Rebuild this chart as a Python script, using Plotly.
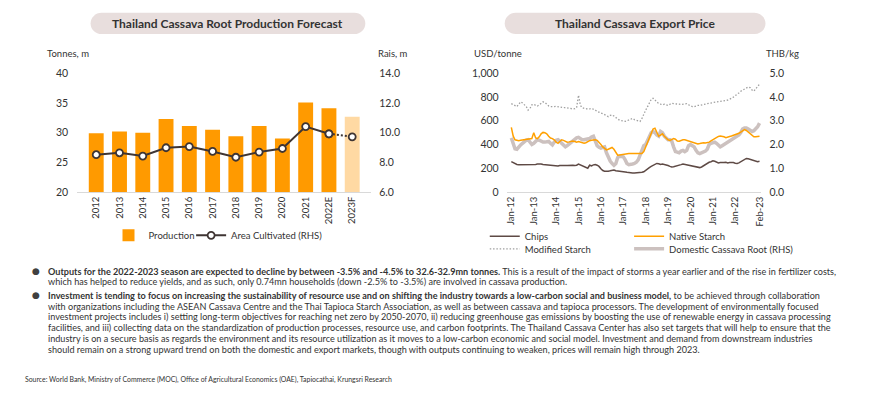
import plotly.graph_objects as go

W, H = 870, 396

# ---------------- Data: left chart ----------------
years = ["2012", "2013", "2014", "2015", "2016", "2017", "2018", "2019", "2020", "2021", "2022E", "2023F"]
production = [29.9, 30.2, 30.0, 32.3, 31.1, 30.5, 29.4, 31.1, 29.0, 35.1, 34.1, 32.7]
area_cultivated = [8.51, 8.64, 8.42, 8.98, 9.06, 8.73, 8.34, 8.69, 8.93, 10.41, 9.92, 9.72]
bar_colors = ["#FF9A00"] * 11 + ["#FFD9A3"]

# ---------------- Data: right chart (monthly, Jan-12 .. Feb-23) ----------------
chips = [
    255, 245, 235, 232, 230, 230, 228, 228, 230, 232, 230, 228,
    230, 232, 235, 238, 236, 232, 230, 228, 226, 225, 224, 222,
    220, 218, 222, 224, 224, 222, 222, 224, 225, 224, 222, 225,
    235, 228, 222, 218, 212, 200, 225, 220, 228, 230, 225, 215,
    195, 180, 175, 172, 175, 178, 182, 185, 178, 176, 180, 175,
    170, 168, 165, 162, 160, 160, 160, 160, 162, 162, 165, 170,
    185, 195, 205, 215, 225, 235, 240, 238, 232, 235, 232, 228,
    222, 215, 210, 212, 215, 220, 225, 230, 235, 232, 228, 222,
    220, 215, 212, 208, 205, 205, 210, 220, 235, 245, 250, 255,
    262, 258, 250, 245, 248, 245, 248, 250, 245, 248, 250, 248,
    242, 240, 245, 255, 265, 275, 282, 280, 275, 270, 262, 258,
    255, 258,
]
native_starch = [
    545, 470, 440, 435, 432, 435, 438, 440, 440, 442, 445, 450,
    500, 455, 450, 465, 490, 502, 500, 490, 470, 455, 450, 440,
    420, 410, 425, 440, 435, 425, 420, 422, 428, 430, 425, 420,
    425, 420, 412, 410, 415, 425, 432, 435, 438, 440, 435, 420,
    400, 380, 365, 355, 360, 370, 375, 360, 330, 310, 312, 315,
    318, 320, 322, 323, 323, 323, 325, 325, 325, 325, 323, 340,
    380, 420, 460, 500, 530, 538, 510, 470, 480, 490, 470, 455,
    440, 435, 445, 450, 445, 430, 428, 435, 440, 440, 435, 432,
    430, 425, 420, 412, 405, 408, 412, 415, 412, 415, 420, 430,
    440, 450, 460, 468, 472, 470, 465, 458, 460, 468, 472, 478,
    480, 485, 495, 505, 515, 525, 518, 505, 490, 475, 465, 465,
    465, 470,
]
modified_starch = [
    745, 735, 725, 720, 740, 760, 750, 735, 720, 690, 705, 735,
    740, 730, 725, 735, 750, 760, 755, 740, 725, 720, 718, 720,
    722, 718, 715, 712, 710, 712, 708, 705, 705, 700, 702, 710,
    815, 730, 710, 705, 700, 702, 700, 705, 700, 690, 680, 670,
    665, 660, 650, 640, 635, 645, 650, 640, 625, 615, 605, 600,
    598, 595, 600, 605, 615, 620, 610, 605, 600, 595, 620, 660,
    690, 720, 750, 780, 790, 775, 755, 745, 740, 735, 740, 735,
    730, 740, 748, 745, 745, 742, 740, 738, 740, 745, 745, 735,
    725, 720, 718, 725, 730, 730, 735, 740, 742, 745, 748, 750,
    752, 755, 758, 762, 765, 768, 770, 772, 775, 780, 790, 800,
    810, 820, 835, 850, 860, 870, 880, 885, 880, 860, 850, 870,
    890, 910,
]
domestic_root = [
    2.28, 2.05, 1.82, 1.80, 1.92, 1.98, 2.05, 2.12, 2.18, 2.20, 2.10, 2.00,
    2.05, 2.15, 2.20, 2.18, 2.12, 2.10, 2.10, 2.12, 2.13, 2.05, 1.98, 2.10,
    2.18, 2.20, 2.15, 2.05, 1.95, 1.90, 1.95, 2.02, 2.10, 2.15, 2.20, 2.28,
    2.30, 2.25, 2.20, 2.20, 2.22, 2.22, 2.25, 2.32, 2.35, 2.15, 1.95, 1.88,
    1.85, 1.88, 1.90, 1.65, 1.45, 1.30, 1.20, 1.12, 1.20, 1.45, 1.50, 1.50,
    1.48, 1.35, 1.20, 1.15, 1.15, 1.18, 1.20, 1.25, 1.35, 1.55, 1.75, 1.95,
    2.00, 2.20, 2.35, 2.50, 2.55, 2.50, 2.40, 2.35, 2.55, 2.50, 2.35, 2.25,
    2.20, 2.20, 2.15, 1.90, 1.70, 1.68, 1.65, 1.72, 1.75, 1.70, 1.75, 1.95,
    2.00, 1.95, 1.90, 1.75, 1.65, 1.62, 1.65, 1.70, 1.72, 1.80, 2.00, 2.05,
    2.08, 2.10, 2.05, 1.95, 1.90, 1.95, 2.00, 2.05, 2.12, 2.18, 2.20, 2.28,
    2.30, 2.35, 2.40, 2.50, 2.65, 2.70, 2.70, 2.65, 2.60, 2.55, 2.58, 2.65,
    2.75, 2.90,
]
month_dates = [f"{2012 + i // 12}-{i % 12 + 1:02d}-01" for i in range(len(chips))]
price_tickvals = [f"{y}-01-01" for y in range(2012, 2023)] + ["2023-02-01"]
price_ticktext = [f"Jan-{y % 100:02d}" for y in range(2012, 2023)] + ["Feb-23"]

# ---------------- Texts ----------------
title_left = "Thailand Cassava Root Production Forecast"
title_right = "Thailand Cassava Export Price"
body_lines = [
    "<b>Outputs for the 2022-2023 season are expected to decline by between -3.5% and -4.5% to 32.6-32.9mn tonnes.</b> This is a result of the impact of storms a year earlier and of the rise in fertilizer costs,",
    "which has helped to reduce yields, and as such, only 0.74mn households (down -2.5% to -3.5%) are involved in cassava production.",
    "<b>Investment is tending to focus on increasing the sustainability of resource use and on shifting the industry towards a low-carbon social and business model,</b> to be achieved through collaboration",
    "with organizations including the ASEAN Cassava Centre and the Thai Tapioca Starch Association, as well as between cassava and tapioca processors. The development of environmentally focused",
    "investment projects includes i) setting long-term objectives for reaching net zero by 2050-2070, ii) reducing greenhouse gas emissions by boosting the use of renewable energy in cassava processing",
    "facilities, and iii) collecting data on the standardization of production processes, resource use, and carbon footprints. The Thailand Cassava Center has also set targets that will help to ensure that the",
    "industry is on a secure basis as regards the environment and its resource utilization as it moves to a low-carbon economic and social model. Investment and demand from downstream industries",
    "should remain on a strong upward trend on both the domestic and export markets, though with outputs continuing to weaken, prices will remain high through 2023.",
]
source_text = "Source: World Bank, Ministry of Commerce (MOC), Office of Agricultural Economics (OAE), Tapiocathai, Krungsri Research"

# ---------------- Helpers ----------------
def PX(x):
    return x / W

def PY(y):
    return 1 - y / H

FONT = "Lato"
TXT = "#333333"
AXLINE = "#D9D9D9"
YDOM = [PY(191.7), PY(69.5)]
AREA_C = "#3F3533"

fig = go.Figure()

# Left chart
fig.add_trace(go.Bar(
    x=years, y=production, name="Production", marker=dict(color=bar_colors, line=dict(width=0)),
    xaxis="x", yaxis="y", legend="legend", width=0.64,
))
fig.add_trace(go.Scatter(
    x=years[:-1], y=area_cultivated[:-1], name="Area Cultivated (RHS)", mode="lines+markers",
    line=dict(color=AREA_C, width=2),
    marker=dict(size=7, color="white", line=dict(color=AREA_C, width=1.8)),
    xaxis="x", yaxis="y2", legend="legend2",
))
fig.add_trace(go.Scatter(
    x=years[-2:], y=area_cultivated[-2:], name="Area Cultivated (RHS)", mode="lines+markers",
    line=dict(color=AREA_C, width=2, dash="2px,2px"),
    marker=dict(size=7, color="white", line=dict(color=AREA_C, width=1.8)),
    xaxis="x", yaxis="y2", showlegend=False,
))

# Right chart: domestic root on base axis (y3, right side), USD series on overlay (y4, left side)
fig.add_trace(go.Scatter(
    x=month_dates, y=domestic_root, name="Domestic Cassava Root (RHS)", mode="lines",
    line=dict(color="#CCC1BF", width=3.5), xaxis="x2", yaxis="y3", legend="legend6",
))
fig.add_trace(go.Scatter(
    x=month_dates, y=chips, name="Chips", mode="lines",
    line=dict(color="#5E4A45", width=1.5), xaxis="x2", yaxis="y4", legend="legend3",
))
fig.add_trace(go.Scatter(
    x=month_dates, y=native_starch, name="Native Starch", mode="lines",
    line=dict(color="#FFA000", width=1.5), xaxis="x2", yaxis="y4", legend="legend4",
))
fig.add_trace(go.Scatter(
    x=month_dates, y=modified_starch, name="Modified Starch", mode="lines",
    line=dict(color="#A0A0A0", width=1.3, dash="1.5px,1.8px"), xaxis="x2", yaxis="y4", legend="legend5",
))

tickfont = dict(family=FONT, size=10.5, color=TXT)
xtickfont = dict(family=FONT, size=9.5, color=TXT)
legfont = dict(family=FONT, size=9.5, color=TXT)

def leg(x_text, y_center):
    # legend text starts 40px right of legend origin; item centre ~ 14px below top
    return dict(orientation="h", x=PX(x_text - 40), y=PY(y_center - 13.5), xanchor="left", yanchor="top",
                font=legfont, bgcolor="rgba(0,0,0,0)")

fig.update_layout(
    width=W, height=H, autosize=False,
    margin=dict(l=0, r=0, t=0, b=0),
    paper_bgcolor="white", plot_bgcolor="white",
    font=dict(family=FONT, color=TXT),
    xaxis=dict(domain=[PX(76.5), PX(372)], type="category", showline=True, linecolor=AXLINE, linewidth=1,
               ticks="", tickangle=-90, tickfont=xtickfont, showgrid=False, zeroline=False, anchor="y"),
    yaxis=dict(domain=YDOM, range=[20, 40], tickvals=[20, 25, 30, 35, 40], showgrid=False, zeroline=False,
               showline=False, tickfont=tickfont, ticklabelstandoff=8, anchor="x"),
    yaxis2=dict(range=[6, 14], tickvals=[6, 8, 10, 12, 14], tickformat=".1f", overlaying="y", side="right",
                showgrid=False, zeroline=False, showline=False, tickfont=tickfont, ticklabelstandoff=7, anchor="x"),
    xaxis2=dict(domain=[PX(508), PX(764)], type="date", range=["2011-10-17", "2023-03-05"],
                tickvals=price_tickvals, ticktext=price_ticktext, showline=True, linecolor=AXLINE, linewidth=1,
                ticks="", tickangle=-90, tickfont=xtickfont, showgrid=False, zeroline=False, anchor="y3"),
    yaxis3=dict(domain=YDOM, range=[0, 5], tickvals=[0, 1, 2, 3, 4, 5], tickformat=".1f", side="right",
                showgrid=False, zeroline=False, showline=False, tickfont=tickfont, ticklabelstandoff=7, anchor="x2"),
    yaxis4=dict(range=[0, 1000], tickvals=[0, 200, 400, 600, 800, 1000], tickformat=",", overlaying="y3",
                side="left", showgrid=False, zeroline=False, showline=False, tickfont=tickfont,
                ticklabelstandoff=7, anchor="x2"),
    legend=leg(148, 235),
    legend2=leg(231, 235),
    legend3=leg(526, 236),
    legend4=leg(671, 236),
    legend5=leg(526, 249),
    legend6=leg(671, 249),
    showlegend=True,
)

# Title pills
def pill(x0, x1, y0, y1):
    r = (y1 - y0) / 2
    k = 0.5523 * r
    pts = [
        f"M {PX(x0 + r)},{PY(y0)}",
        f"L {PX(x1 - r)},{PY(y0)}",
        f"C {PX(x1 - r + k)},{PY(y0)} {PX(x1)},{PY(y0 + r - k)} {PX(x1)},{PY(y0 + r)}",
        f"C {PX(x1)},{PY(y0 + r + k)} {PX(x1 - r + k)},{PY(y1)} {PX(x1 - r)},{PY(y1)}",
        f"L {PX(x0 + r)},{PY(y1)}",
        f"C {PX(x0 + r - k)},{PY(y1)} {PX(x0)},{PY(y0 + r + k)} {PX(x0)},{PY(y0 + r)}",
        f"C {PX(x0)},{PY(y0 + r - k)} {PX(x0 + r - k)},{PY(y0)} {PX(x0 + r)},{PY(y0)} Z",
    ]
    return dict(type="path", xref="paper", yref="paper", path=" ".join(pts),
                fillcolor="#E8DEDD", line=dict(width=0), layer="below")

fig.add_shape(**pill(90, 366, 7, 29))
fig.add_shape(**pill(506, 768, 7, 29))

anns = []
def ann(text, x, y, size, xanchor="left", bold=False, color=TXT, family=FONT):
    anns.append(dict(text=f"<b>{text}</b>" if bold else text, x=PX(x), y=PY(y), xref="paper", yref="paper",
                     xanchor=xanchor, yanchor="middle", showarrow=False,
                     font=dict(family=family, size=size, color=color)))

ann(title_left, 228, 18, 12, xanchor="center", bold=True)
ann(title_right, 637, 18, 12, xanchor="center", bold=True)
ann("Tonnes, m", 44, 49, 9.5)
ann("Rais, m", 377, 49, 9.5)
ann("USD/tonne", 473, 49, 9.5)
ann("THB/kg", 767, 49, 9.5)

line_y = [274, 284.4, 298.3, 309.4, 320.6, 331.8, 343.1, 354.3]
for txt, yy in zip(body_lines, line_y):
    ann(txt, 45, yy, 9.1)
ann("●", 35.5, 273.5, 9, xanchor="center", color="#404040", family="DejaVu Sans")
ann("●", 35.5, 297.8, 9, xanchor="center", color="#404040", family="DejaVu Sans")
ann(source_text, 22, 385, 6.9)

fig.update_layout(annotations=anns)

fig.write_html("out.html", config={"displayModeBar": False},
               post_script="document.body.style.margin='0';document.body.style.padding='0';")
